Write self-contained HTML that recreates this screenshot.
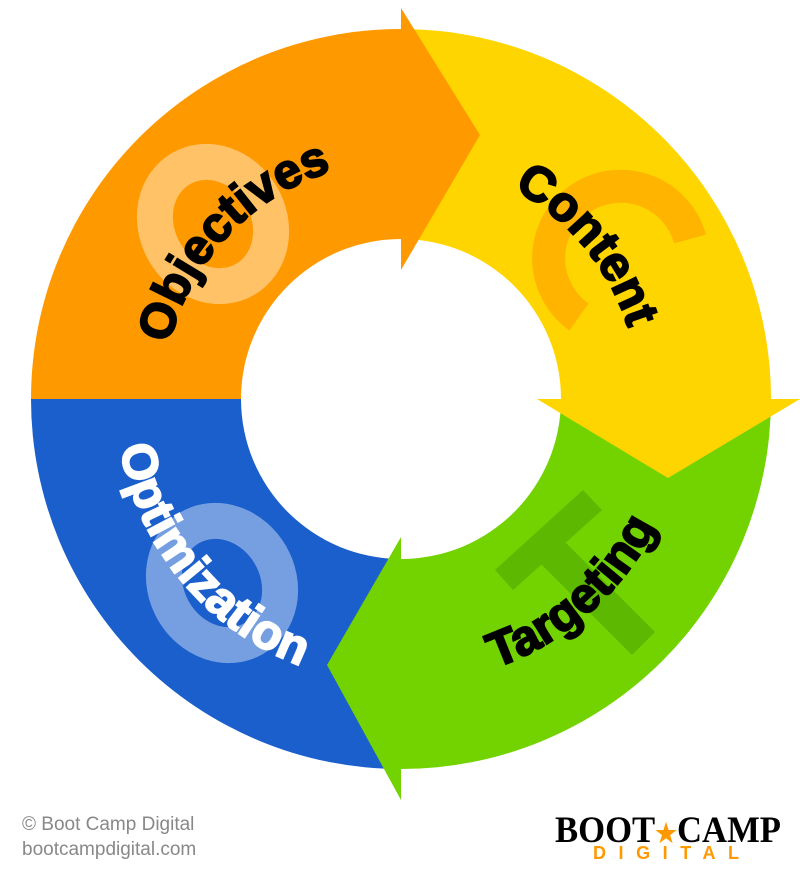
<!DOCTYPE html>
<html><head><meta charset="utf-8"><style>
html,body{margin:0;padding:0;background:#fff;}
svg{display:block;}
</style></head><body>
<svg width="800" height="870" viewBox="0 0 800 870" xmlns="http://www.w3.org/2000/svg">
<defs>
<path id="topArc" d="M 163,399 A 238 238 0 0 1 639,399"/>
<path id="botArc" d="M 116,399 A 285 285 0 0 0 686,399"/>
</defs>
<path d="M31,399 A370 370 0 0 1 401,29 L401,239 A160 160 0 0 0 241,399 Z" fill="#ff9900"/>
<path d="M401,29 A370 370 0 0 1 771,399 L561,399 A160 160 0 0 0 401,239 Z" fill="#ffd500"/>
<path d="M771,399 A370 370 0 0 1 401,769 L401,559 A160 160 0 0 0 561,399 Z" fill="#72d300"/>
<path d="M401,769 A370 370 0 0 1 31,399 L241,399 A160 160 0 0 0 401,559 Z" fill="#1a5fcc"/>
<polygon points="401,537 327,665 401,800" fill="#72d300"/>
<polygon points="537,399 800,399 668,478" fill="#ffd500"/>
<polygon points="401,8 480,135 401,270" fill="#ff9900"/>
<ellipse cx="213" cy="224" rx="56" ry="64" transform="rotate(-30 213 224)" fill="none" stroke="#fff" stroke-opacity="0.4" stroke-width="36"/>
<path d="M690,239 A72 72 0 1 0 579,317" fill="none" stroke="#ffb400" stroke-width="33"/>
<g fill="#5cb800">
<polygon points="495,570 513,590 602,510 583,490"/>
<polygon points="535,558 558,535 655,632 632,655"/>
</g>
<ellipse cx="222" cy="583" rx="56" ry="64" transform="rotate(-30 222 583)" fill="none" stroke="#fff" stroke-opacity="0.4" stroke-width="36"/>
<g font-family="Liberation Sans, sans-serif" font-weight="bold" font-size="49" stroke-width="2">
<text fill="#000" stroke="#000"><textPath href="#topArc" startOffset="24%" text-anchor="middle">Objectives</textPath></text>
<text fill="#000" stroke="#000"><textPath href="#topArc" startOffset="78%" text-anchor="middle">Content</textPath></text>
<text fill="#fff" stroke="#fff"><textPath href="#botArc" startOffset="22%" text-anchor="middle">Optimization</textPath></text>
<text fill="#000" stroke="#000"><textPath href="#botArc" startOffset="73%" text-anchor="middle">Targeting</textPath></text>
</g>
<g font-family="Liberation Sans, sans-serif" font-size="19" fill="#888">
<text x="22" y="830">© Boot Camp Digital</text>
<text x="22" y="855">bootcampdigital.com</text>
</g>
<text x="668" y="842" text-anchor="middle" font-family="Liberation Serif, serif" font-weight="bold" font-size="37" fill="#000" textLength="226" lengthAdjust="spacingAndGlyphs">BOOT<tspan fill="#ff9900" font-size="26">★</tspan>CAMP</text>
<text x="593" y="859" font-family="Liberation Sans, sans-serif" font-weight="bold" font-size="18" fill="#ff9900" textLength="146" lengthAdjust="spacing">DIGITAL</text>
</svg>
</body></html>
